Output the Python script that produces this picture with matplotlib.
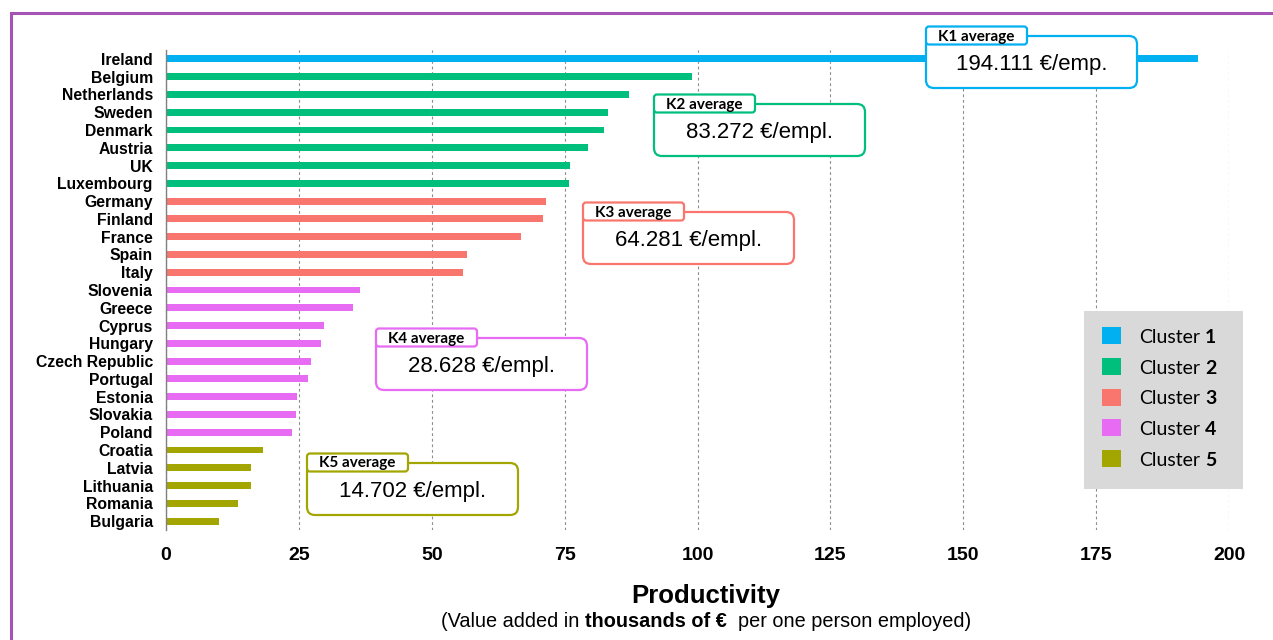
import matplotlib
matplotlib.use("Agg")
import matplotlib.pyplot as plt
from matplotlib.patches import FancyBboxPatch, Rectangle
import numpy as np

plt.rcParams['font.family'] = ['Liberation Sans', 'DejaVu Sans']

# productivity per person employed, thousands of euro
countries = ["Ireland", "Belgium", "Netherlands", "Sweden", "Denmark", "Austria", "UK",
             "Luxembourg", "Germany", "Finland", "France", "Spain", "Italy", "Slovenia",
             "Greece", "Cyprus", "Hungary", "Czech Republic", "Portugal", "Estonia",
             "Slovakia", "Poland", "Croatia", "Latvia", "Lithuania", "Romania", "Bulgaria"]
productivity = [194.111, 98.9, 87.1, 83.2, 82.5, 79.4, 76.1, 75.9, 71.5, 70.9, 66.7, 56.6,
                55.8, 36.5, 35.2, 29.8, 29.2, 27.3, 26.8, 24.7, 24.5, 23.8, 18.3, 16.0,
                15.9, 13.5, 10.0]
cluster = [1, 2, 2, 2, 2, 2, 2, 2, 3, 3, 3, 3, 3, 4, 4, 4, 4, 4, 4, 4, 4, 4, 5, 5, 5, 5, 5]

cluster_names = ["1", "2", "3", "4", "5"]
cluster_colors = ["#00B0F0", "#00BF7D", "#F8766D", "#E76BF3", "#A3A500"]
averages = [194.111, 83.272, 64.281, 28.628, 14.702]
avg_units = ["€/emp.", "€/empl.", "€/empl.", "€/empl.", "€/empl."]
xticks = [0, 25, 50, 75, 100, 125, 150, 175, 200]

W, H = 1273, 640
fig = plt.figure(figsize=(W / 100, H / 100), dpi=100)
fig.patch.set_facecolor("white")

ax = fig.add_axes([166 / W, 1 - 530 / H, (1229 - 166) / W, (530 - 50) / H])
ypos = np.arange(len(countries))
bar_colors = [cluster_colors[c - 1] for c in cluster]
ax.barh(ypos, productivity, height=0.39, color=bar_colors, zorder=2)
ax.set_xlim(0, 200)
ax.set_ylim(len(countries) - 0.5, -0.5)
ax.set_xticks(xticks)
ax.set_yticks(ypos, countries)
ax.tick_params(length=0)
ax.tick_params(axis="y", pad=9.5, labelsize=11.3)
ax.tick_params(axis="x", pad=12, labelsize=14)
for lbl in ax.get_xticklabels() + ax.get_yticklabels():
    lbl.set_fontweight("bold")
ax.grid(axis="x", linestyle=(0, (2.5, 2.5)), color="#8c8c8c", linewidth=0.8, zorder=0)
for side in ["top", "right", "bottom"]:
    ax.spines[side].set_visible(False)
ax.spines["left"].set_color("#808080")
ax.spines["left"].set_linewidth(1)

# overlay in pixel units for the boxes, legend and axis caption
ov = fig.add_axes([0, 0, 1, 1], zorder=5)
ov.set_xlim(0, W)
ov.set_ylim(H, 0)
ov.axis("off")

ov.plot([11, 11, W], [H, 13, 13], color="#A553B5", lw=2.2, solid_joinstyle="miter")

renderer = fig.canvas.get_renderer()


def text_width(s, **kw):
    t = ov.text(0, 0, s, **kw)
    w = t.get_window_extent(renderer).width
    t.remove()
    return w


def draw_runs(x, y, runs, ha="left", **kw):
    # runs: list of (text, weight, spaces after)
    space = text_width("x x", **kw) - text_width("xx", **kw)
    widths = [text_width(s, fontweight=wt, **kw) for s, wt, _ in runs]
    total = sum(widths) + space * sum(n for _, _, n in runs)
    cx = x - total / 2 if ha == "center" else x
    for (s, wt, n), w in zip(runs, widths):
        ov.text(cx, y, s, fontweight=wt, va="baseline", ha="left", **kw)
        cx += w + space * n


# cluster average boxes
box_left = [926, 654, 583, 376, 307]
box_top = [36, 104, 212, 338, 463]
box_w, box_h = 211, 52
tab_w, tab_h = 101, 18
for k in range(5):
    l, t, col = box_left[k], box_top[k], cluster_colors[k]
    ov.add_patch(FancyBboxPatch((l, t), box_w, box_h,
                                boxstyle="round,pad=0,rounding_size=8",
                                fc="white", ec=col, lw=1.6))
    ov.add_patch(FancyBboxPatch((l, t - 9.5), tab_w, tab_h,
                                boxstyle="round,pad=0,rounding_size=3",
                                fc="white", ec=col, lw=1.6))
    ov.text(l + tab_w / 2, t + 4.5, f"K{k + 1} average", ha="center", va="baseline",
            family="Lato", fontweight="bold", fontsize=11)
    ov.text(l + box_w / 2, t + box_h / 2 + 8, f"{averages[k]:.3f} {avg_units[k]}",
            ha="center", va="baseline", fontsize=16)

# legend
ov.add_patch(Rectangle((1084, 310.7), 159, 178, fc="#D9D9D9", ec="none"))
for k in range(5):
    cy = 335.8 + k * 30.7
    ov.add_patch(Rectangle((1102, cy - 8.5), 19, 17, fc=cluster_colors[k], ec="none"))
    draw_runs(1139, cy + 7, [("Cluster", "normal", 1), (cluster_names[k], "bold", 0)],
              family="Lato", fontsize=14)

# axis caption
ov.text(706, 603, "Productivity", ha="center", va="baseline", fontsize=18.5,
        fontweight="bold")
draw_runs(706, 627, [("(Value added in", "normal", 1), ("thousands of €", "bold", 2),
                     ("per one person employed)", "normal", 0)],
          ha="center", fontsize=14.35)

fig.savefig("out.png", dpi=100)
